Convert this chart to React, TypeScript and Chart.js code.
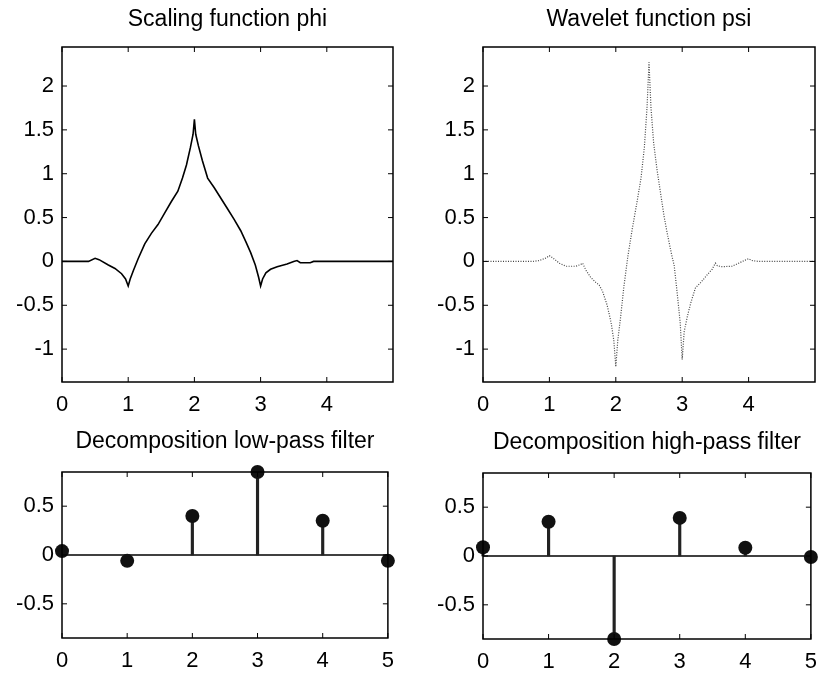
import React, { useEffect, useRef } from "react";
import { Chart, registerables } from "chart.js";

Chart.register(...registerables);

// ---------- data ----------
const phiX = [0, 0.4, 0.5, 0.56, 0.7, 0.8, 0.9, 0.96, 1.0, 1.03, 1.08, 1.15, 1.25, 1.35, 1.45, 1.55, 1.65, 1.75, 1.82, 1.88, 1.94, 1.98, 2.0, 2.02, 2.06, 2.12, 2.2, 2.3, 2.4, 2.5, 2.6, 2.7, 2.78, 2.85, 2.92, 2.97, 3.0, 3.03, 3.08, 3.15, 3.25, 3.4, 3.5, 3.55, 3.6, 3.75, 3.8, 5];
const phiY = [0, 0, 0.035, 0.02, -0.04, -0.08, -0.14, -0.2, -0.28, -0.2, -0.1, 0.03, 0.2, 0.32, 0.42, 0.55, 0.68, 0.8, 0.95, 1.1, 1.3, 1.45, 1.62, 1.45, 1.32, 1.15, 0.95, 0.84, 0.72, 0.6, 0.48, 0.35, 0.22, 0.1, -0.04, -0.18, -0.28, -0.2, -0.13, -0.09, -0.06, -0.03, 0, 0.01, -0.015, -0.015, 0, 0];

const psiX = [0, 0.75, 0.85, 0.95, 1.0, 1.05, 1.15, 1.25, 1.4, 1.47, 1.5, 1.55, 1.62, 1.7, 1.75, 1.8, 1.87, 1.93, 1.97, 2.0, 2.03, 2.07, 2.12, 2.18, 2.25, 2.32, 2.38, 2.43, 2.47, 2.5, 2.53, 2.57, 2.62, 2.68, 2.73, 2.78, 2.84, 2.88, 2.93, 2.97, 3.0, 3.03, 3.08, 3.13, 3.2, 3.28, 3.38, 3.45, 3.5, 3.53, 3.6, 3.75, 3.85, 3.95, 4.0, 4.05, 4.15, 5];
const psiY = [0, 0, 0.01, 0.04, 0.065, 0.04, -0.02, -0.055, -0.055, -0.035, -0.02, -0.1, -0.18, -0.24, -0.27, -0.34, -0.5, -0.7, -0.9, -1.2, -0.9, -0.65, -0.3, 0.05, 0.38, 0.68, 0.95, 1.3, 1.75, 2.27, 1.75, 1.35, 1.05, 0.75, 0.5, 0.3, 0.08, -0.05, -0.4, -0.7, -1.12, -0.8, -0.62, -0.47, -0.3, -0.24, -0.15, -0.09, -0.02, -0.05, -0.06, -0.055, -0.02, 0.015, 0.03, 0.01, 0, 0];

const filterIndex = [0, 1, 2, 3, 4, 5];
const lowPass = [0.04, -0.06, 0.4, 0.85, 0.35, -0.06];
const highPass = [0.09, 0.35, -0.85, 0.39, 0.085, -0.01];

const topXTicks = [0, 1, 2, 3, 4];
const topYTicks = [-1, -0.5, 0, 0.5, 1, 1.5, 2];
const bottomXTicks = [0, 1, 2, 3, 4, 5];
const bottomYTicks = [-0.5, 0, 0.5];

const titles = [
  "Scaling function phi",
  "Wavelet function psi",
  "Decomposition low-pass filter",
  "Decomposition high-pass filter",
];

// ---------- layout ----------
const FONT = '"Liberation Sans", Arial, Helvetica, sans-serif';
const PAD_L = 62;
const PAD_T = 50;
const PAD_R = 12;
const PAD_B = 45;

type Box = { L: number; T: number; R: number; B: number; titleOffset: number };
const boxes: Box[] = [
  { L: 62, T: 47, R: 393, B: 382, titleOffset: 21 },
  { L: 483, T: 47, R: 815, B: 382, titleOffset: 21 },
  { L: 62, T: 472, R: 392, B: 638, titleOffset: 24 },
  { L: 483, T: 473, R: 815, B: 639, titleOffset: 24 },
];

const framePlugin = {
  id: "frame",
  afterDraw(chart: any, _args: any, opts: any) {
    const { ctx, chartArea } = chart;
    const { left, right, top, bottom } = chartArea;
    const xs = chart.scales.x;
    const ys = chart.scales.y;
    ctx.save();
    ctx.strokeStyle = "#000";
    ctx.lineWidth = 1.5;
    ctx.strokeRect(left, top, right - left, bottom - top);
    const tl = 5;
    ctx.lineWidth = 1;
    ctx.beginPath();
    xs.ticks.forEach((t: any) => {
      const px = xs.getPixelForValue(t.value);
      ctx.moveTo(px, bottom);
      ctx.lineTo(px, bottom - tl);
      ctx.moveTo(px, top);
      ctx.lineTo(px, top + tl);
    });
    ys.ticks.forEach((t: any) => {
      const py = ys.getPixelForValue(t.value);
      ctx.moveTo(left, py);
      ctx.lineTo(left + tl, py);
      ctx.moveTo(right, py);
      ctx.lineTo(right - tl, py);
    });
    ctx.stroke();
    if (opts && opts.title) {
      ctx.fillStyle = "#000";
      ctx.font = `23px ${FONT}`;
      ctx.textAlign = "center";
      ctx.textBaseline = "alphabetic";
      ctx.fillText(opts.title, (left + right) / 2, top - (opts.titleOffset || 21));
    }
    ctx.restore();
  },
};

function scalesFor(xMin: number, xMax: number, yMin: number, yMax: number, xt: number[], yt: number[]) {
  return {
    x: {
      type: "linear",
      min: xMin,
      max: xMax,
      offset: false,
      grid: { display: false, drawTicks: false, offset: false },
      border: { display: false },
      afterBuildTicks: (s: any) => {
        s.ticks = xt.map((v) => ({ value: v }));
      },
      afterFit: (s: any) => {
        s.height = PAD_B;
      },
      ticks: {
        color: "#000",
        padding: 10,
        maxRotation: 0,
        autoSkip: false,
        font: { family: FONT, size: 22 },
        callback: (v: any) => String(v),
      },
    },
    y: {
      type: "linear",
      min: yMin,
      max: yMax,
      grid: { display: false, drawTicks: false },
      border: { display: false },
      afterBuildTicks: (s: any) => {
        s.ticks = yt.map((v) => ({ value: v }));
      },
      afterFit: (s: any) => {
        s.width = PAD_L;
      },
      ticks: {
        color: "#000",
        padding: 8,
        autoSkip: false,
        font: { family: FONT, size: 22 },
        callback: (v: any) => String(v),
      },
    },
  };
}

function baseOptions(i: number, scales: any) {
  return {
    responsive: false,
    animation: false,
    devicePixelRatio: 1,
    layout: { padding: { left: 0, top: PAD_T, right: PAD_R, bottom: 0 } },
    plugins: {
      legend: { display: false },
      tooltip: { enabled: false },
      title: { display: false },
      frame: { title: titles[i], titleOffset: boxes[i].titleOffset },
    },
    scales,
  };
}

function funcConfig(i: number, xs: number[], ys: number[], color: string, width: number, dash: number[]) {
  return {
    type: "line",
    data: {
      datasets: [
        {
          data: xs.map((x, k) => ({ x, y: ys[k] })),
          borderColor: color,
          borderWidth: width,
          borderDash: dash,
          pointRadius: 0,
          tension: 0,
          fill: false,
        },
      ],
    },
    options: baseOptions(i, scalesFor(0, 5, -1.375, 2.445, topXTicks, topYTicks)),
    plugins: [framePlugin],
  };
}

function stemConfig(i: number, vals: number[]) {
  return {
    type: "bar",
    data: {
      datasets: [
        {
          type: "line",
          data: [
            { x: 0, y: 0 },
            { x: 5, y: 0 },
          ],
          borderColor: "#000",
          borderWidth: 1.5,
          pointRadius: 0,
          order: 3,
        },
        {
          type: "bar",
          data: filterIndex.map((x, k) => ({ x, y: vals[k] })),
          backgroundColor: "#222",
          borderWidth: 0,
          barThickness: 2.5,
          grouped: false,
          order: 2,
          clip: false,
        },
        {
          type: "line",
          data: filterIndex.map((x, k) => ({ x, y: vals[k] })),
          showLine: false,
          pointRadius: 7,
          pointBackgroundColor: "#111",
          pointBorderColor: "#111",
          pointBorderWidth: 0,
          order: 1,
          clip: false,
        },
      ],
    },
    options: baseOptions(i, scalesFor(0, 5, -0.85, 0.85, bottomXTicks, bottomYTicks)),
    plugins: [framePlugin],
  };
}

export default function App() {
  const r0 = useRef<HTMLCanvasElement>(null);
  const r1 = useRef<HTMLCanvasElement>(null);
  const r2 = useRef<HTMLCanvasElement>(null);
  const r3 = useRef<HTMLCanvasElement>(null);
  const refs = [r0, r1, r2, r3];

  useEffect(() => {
    const configs: any[] = [
      funcConfig(0, phiX, phiY, "#000", 1.6, []),
      funcConfig(1, psiX, psiY, "#444", 1.2, [1, 1.5]),
      stemConfig(2, lowPass),
      stemConfig(3, highPass),
    ];
    const charts = configs.map((cfg, i) => new Chart(refs[i].current as HTMLCanvasElement, cfg));
    return () => charts.forEach((c) => c.destroy());
  }, []);

  return (
    <div
      style={{
        position: "absolute",
        left: 0,
        top: 0,
        width: 821,
        height: 675,
        overflow: "hidden",
        background: "#fff",
      }}
    >
      {boxes.map((b, i) => {
        const w = b.R - b.L + PAD_L + PAD_R;
        const h = b.B - b.T + PAD_T + PAD_B;
        return (
          <canvas
            key={i}
            ref={refs[i]}
            width={w}
            height={h}
            style={{ position: "absolute", left: b.L - PAD_L, top: b.T - PAD_T, width: w, height: h }}
          />
        );
      })}
    </div>
  );
}
